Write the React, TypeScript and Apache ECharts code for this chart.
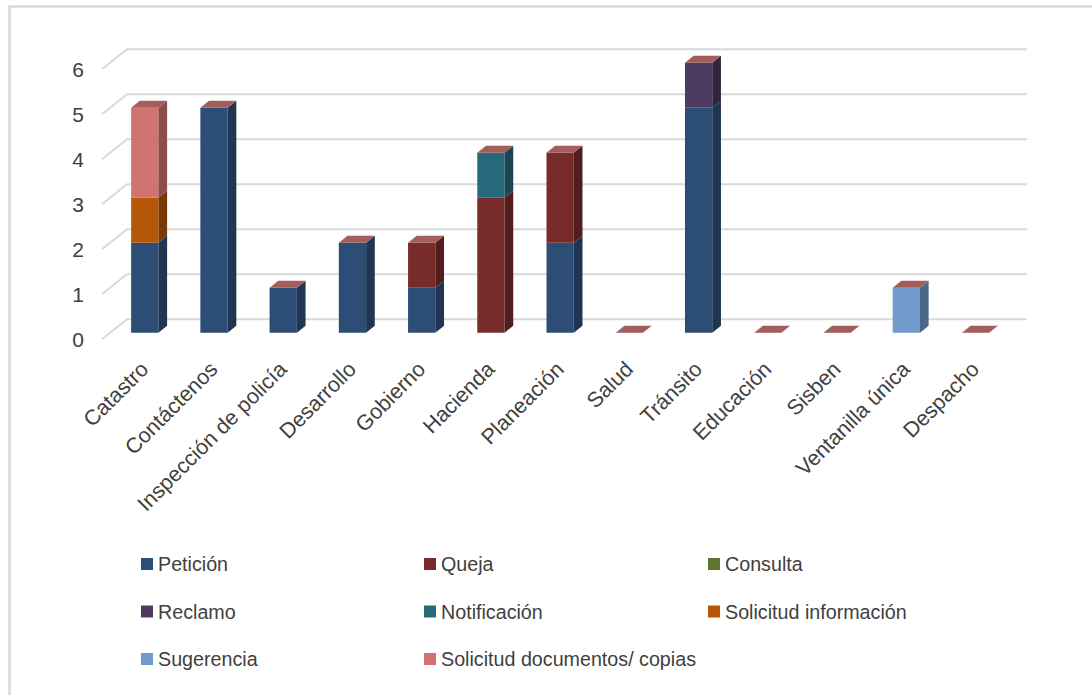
import React, { useEffect, useRef } from "react";
import * as echarts from "echarts";

// Requests per office, split by request type
const categories = [
  "Catastro",
  "Contáctenos",
  "Inspección de policía",
  "Desarrollo",
  "Gobierno",
  "Hacienda",
  "Planeación",
  "Salud",
  "Tránsito",
  "Educación",
  "Sisben",
  "Ventanilla única",
  "Despacho",
];

const peticion = [2, 5, 1, 2, 1, 0, 2, 0, 5, 0, 0, 0, 0];
const queja = [0, 0, 0, 0, 1, 3, 2, 0, 0, 0, 0, 0, 0];
const consulta = [0, 0, 0, 0, 0, 0, 0, 0, 0, 0, 0, 0, 0];
const reclamo = [0, 0, 0, 0, 0, 0, 0, 0, 1, 0, 0, 0, 0];
const notificacion = [0, 0, 0, 0, 0, 1, 0, 0, 0, 0, 0, 0, 0];
const solicitudInformacion = [1, 0, 0, 0, 0, 0, 0, 0, 0, 0, 0, 0, 0];
const sugerencia = [0, 0, 0, 0, 0, 0, 0, 0, 0, 0, 0, 1, 0];
const solicitudDocumentos = [2, 0, 0, 0, 0, 0, 0, 0, 0, 0, 0, 0, 0];

const yTicks = [0, 1, 2, 3, 4, 5, 6];

type SeriesDef = { name: string; values: number[]; front: string; side: string };

const seriesDefs: SeriesDef[] = [
  { name: "Petición", values: peticion, front: "#2c4d75", side: "#1f3552" },
  { name: "Queja", values: queja, front: "#772c2a", side: "#521e1d" },
  { name: "Consulta", values: consulta, front: "#5f7530", side: "#425221" },
  { name: "Reclamo", values: reclamo, front: "#4d3b62", side: "#302640" },
  { name: "Notificación", values: notificacion, front: "#276a7c", side: "#1a4753" },
  { name: "Solicitud información", values: solicitudInformacion, front: "#b65708", side: "#7a3a05" },
  { name: "Sugerencia", values: sugerencia, front: "#729aca", side: "#4b6889" },
  { name: "Solicitud documentos/ copias", values: solicitudDocumentos, front: "#d07371", side: "#8e4c4a" },
];

const TOP_FACE = "#a35d5b";
const GRID_COLOR = "#d9d9d9";
const TEXT_COLOR = "#404040";
const FONT = "'Liberation Sans', Arial, sans-serif";

// depth of each bar and of the floor/back wall
const BAR_DX = 8.7;
const BAR_DY = -7;
const WALL_DX = 25;
const WALL_DY = -20;

function barRenderer(def: SeriesDef, isTop: boolean) {
  return (params: any, api: any) => {
    const cat = api.value(0);
    const start = api.value(1);
    const end = api.value(2);
    const bw = api.size([1, 0])[0] * 0.394;
    const p0 = api.coord([cat, start]);
    const p1 = api.coord([cat, end]);
    const xl = p0[0] - bw / 2;
    const xr = p0[0] + bw / 2;
    const children: any[] = [];
    if (end > start) {
      children.push({
        type: "polygon",
        shape: { points: [[xl, p0[1]], [xr, p0[1]], [xr, p1[1]], [xl, p1[1]]] },
        style: { fill: def.front },
      });
      children.push({
        type: "polygon",
        shape: {
          points: [
            [xr, p0[1]],
            [xr + BAR_DX, p0[1] + BAR_DY],
            [xr + BAR_DX, p1[1] + BAR_DY],
            [xr, p1[1]],
          ],
        },
        style: { fill: def.side },
      });
    }
    if (isTop) {
      children.push({
        type: "polygon",
        shape: {
          points: [
            [xl, p1[1]],
            [xr, p1[1]],
            [xr + BAR_DX, p1[1] + BAR_DY],
            [xl + BAR_DX, p1[1] + BAR_DY],
          ],
        },
        style: { fill: TOP_FACE },
      });
    }
    return { type: "group", children };
  };
}

function buildBarSeries() {
  const running = categories.map(() => 0);
  return seriesDefs.map((def, si) => {
    const data = def.values.map((v, i) => {
      const s = running[i];
      running[i] = s + v;
      return [i, s, s + v];
    });
    return {
      type: "custom",
      name: def.name,
      xAxisIndex: 1,
      yAxisIndex: 1,
      itemStyle: { color: def.front },
      encode: { x: 0, y: [1, 2] },
      data,
      renderItem: barRenderer(def, si === seriesDefs.length - 1),
      z: 3,
    };
  });
}

// left wall diagonals and back wall lines for each tick
const wallSeries = {
  type: "custom",
  name: "wall",
  xAxisIndex: 0,
  yAxisIndex: 0,
  silent: true,
  data: yTicks.map((v) => [0, v]),
  encode: { x: 0, y: 1 },
  renderItem: (params: any, api: any) => {
    const cs = params.coordSys;
    const y = api.coord([0, api.value(1)])[1];
    const x0 = cs.x;
    return {
      type: "polyline",
      shape: {
        points: [
          [x0, y],
          [x0 + WALL_DX, y + WALL_DY],
          [x0 + cs.width + WALL_DX, y + WALL_DY],
        ],
      },
      style: { stroke: GRID_COLOR, lineWidth: 2, fill: "none" },
    };
  },
  z: 1,
};

const legendText = { fontSize: 19.7, color: TEXT_COLOR, fontFamily: FONT, lineHeight: 20 };

function legendColumn(names: string[], left: number) {
  return {
    orient: "vertical",
    left,
    top: 554,
    padding: 0,
    itemWidth: 12,
    itemHeight: 12,
    itemGap: 27.5,
    icon: "rect",
    selectedMode: false,
    textStyle: legendText,
    data: names,
  };
}

export default function App() {
  const ref = useRef<HTMLDivElement>(null);

  useEffect(() => {
    if (!ref.current) return;
    const chart = echarts.init(ref.current, undefined, { renderer: "svg" });
    chart.setOption({
      animation: false,
      backgroundColor: "#ffffff",
      graphic: [
        {
          type: "rect",
          shape: { x: 9.5, y: 6.5, width: 1300, height: 1000 },
          style: { fill: "none", stroke: GRID_COLOR, lineWidth: 2.5 },
          silent: true,
        },
      ],
      legend: [
        legendColumn(["Petición", "Reclamo", "Sugerencia"], 141),
        legendColumn(["Queja", "Notificación", "Solicitud documentos/ copias"], 424),
        legendColumn(["Consulta", "Solicitud información"], 708),
      ],
      grid: [
        { left: 102, top: 69.2, width: 900, height: 270 },
        { left: 110.15, top: 62.7, width: 900, height: 270 },
      ],
      xAxis: [
        { type: "category", gridIndex: 0, data: categories, show: false },
        {
          type: "category",
          gridIndex: 1,
          data: categories,
          axisLine: { show: false },
          axisTick: { show: false },
          axisLabel: {
            interval: 0,
            rotate: 45,
            margin: 33,
            fontSize: 21.5,
            color: TEXT_COLOR,
            fontFamily: FONT,
          },
        },
      ],
      yAxis: [
        {
          type: "value",
          gridIndex: 0,
          min: 0,
          max: 6,
          interval: 1,
          axisLine: { show: false },
          axisTick: { show: false },
          splitLine: { show: false },
          axisLabel: { margin: 18, fontSize: 21, color: TEXT_COLOR, fontFamily: FONT },
        },
        {
          type: "value",
          gridIndex: 1,
          min: 0,
          max: 6,
          interval: 1,
          show: false,
          splitLine: { show: false },
        },
      ],
      series: [wallSeries, ...buildBarSeries()],
    });
    return () => chart.dispose();
  }, []);

  return (
    <div
      ref={ref}
      style={{ position: "fixed", left: 0, top: 0, width: 1092, height: 695, background: "#fff" }}
    />
  );
}
